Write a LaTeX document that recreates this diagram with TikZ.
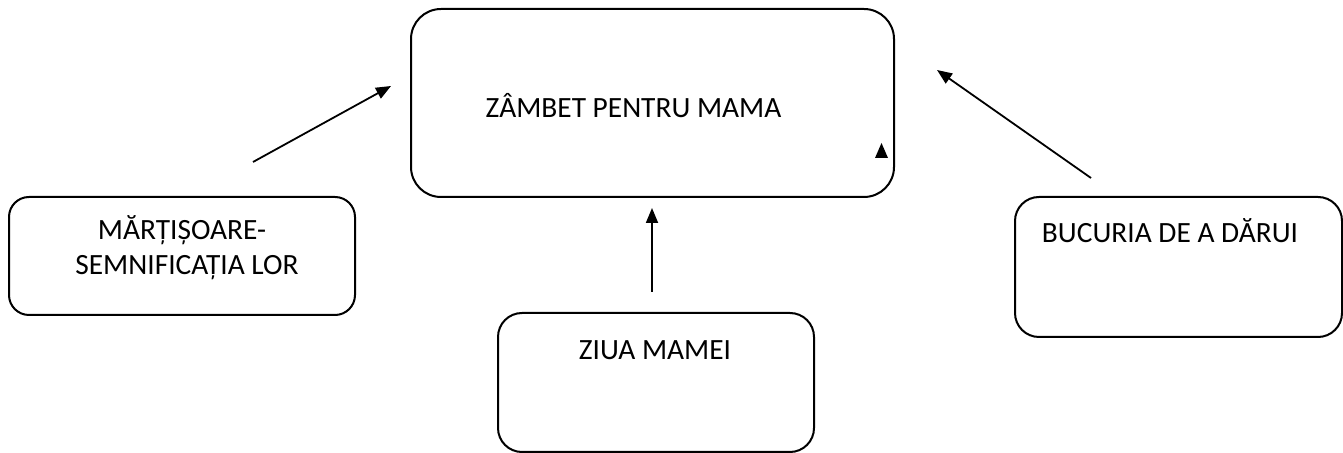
\documentclass[tikz,border=0pt]{standalone}
\usepackage{fontspec}
\setmainfont{Carlito}
\usetikzlibrary{arrows.meta}
\begin{document}
\begin{tikzpicture}[x=0.5pt,y=-0.5pt,
  box/.style={draw,line width=1pt,rounded corners=12pt,inner sep=0pt},
  lbl/.style={font=\fontsize{14.7}{17.5}\selectfont,inner sep=0pt,anchor=base},
  arr/.style={line width=0.9pt,-{Triangle[length=7.5pt,width=6pt]}}]
\useasboundingbox (0,0) rectangle (1343,453);
\node[box,minimum width=241.5pt,minimum height=94pt,rounded corners=15pt] (main) at (652.5,103) {};
\node[box,minimum width=173pt,minimum height=59pt,rounded corners=10pt] (left) at (182,256) {};
\node[box,minimum width=163.5pt,minimum height=70pt] (right) at (1178.5,267) {};
\node[box,minimum width=158pt,minimum height=69.5pt] (bottom) at (656,382.5) {};
\node[lbl] (tmain) at (633.5,118) {ZÂMBET PENTRU MAMA};
\node[lbl] (tleft1) at (182,240) {MĂRȚIȘOARE-};
\node[lbl] (tleft2) at (187,275) {SEMNIFICAȚIA LOR};
\node[lbl] (tright) at (1170,243) {BUCURIA DE A DĂRUI};
\node[lbl] (tbottom) at (655,360) {ZIUA MAMEI};
\coordinate (a1s) at (253,162); \coordinate (a1e) at (391,86);
\coordinate (a2s) at (652,292); \coordinate (a2e) at (652,208);
\coordinate (a3s) at (1091,178); \coordinate (a3e) at (937,70);
\draw[arr] (a1s) -- (a1e);
\draw[arr] (a2s) -- (a2e);
\draw[arr] (a3s) -- (a3e);
\fill (875,158) -- (881.5,143) -- (888,158) -- cycle;
\end{tikzpicture}
\end{document}
